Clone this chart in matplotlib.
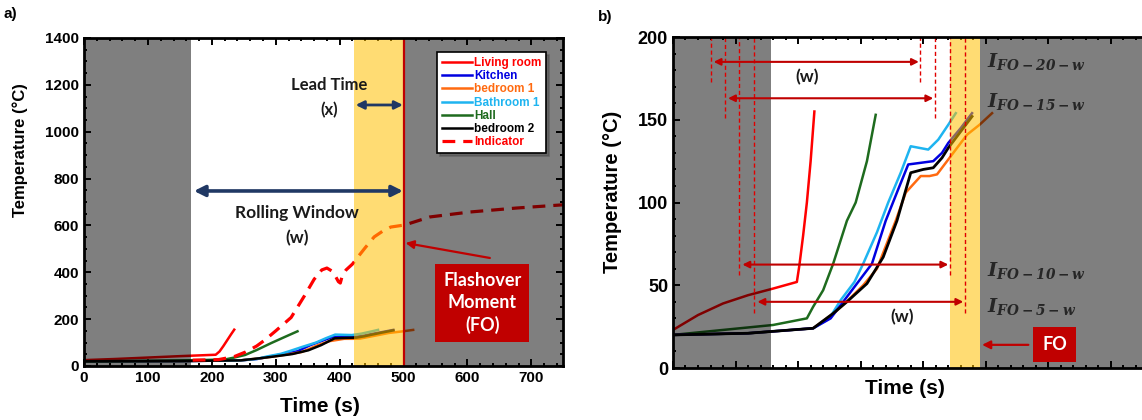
import numpy as np
import matplotlib.pyplot as plt
from matplotlib.ticker import MultipleLocator

plt.rcParams['font.family'] = ['Liberation Sans', 'DejaVu Sans']
plt.rcParams['font.weight'] = 'bold'

# ---- panel a) data (time s, temperature C) ----
living_t = [0, 50, 100, 150, 206, 212, 218, 224, 230, 235]
living_T = [25, 30, 36, 42, 48, 62, 85, 110, 135, 155]
hall_t = [0, 100, 180, 221, 235, 252, 270, 293, 315, 334]
hall_T = [20, 22, 25, 28, 36, 47, 68, 98, 125, 148]
bath_t = [0, 150, 245, 270, 287, 308, 321, 342, 363, 378, 393, 406, 419, 434, 449, 460]
bath_T = [20, 21, 24, 30, 41, 52, 63, 82, 100, 118, 134, 133, 132, 138, 147, 154]
kitchen_t = [0, 150, 245, 271, 292, 313, 334, 354, 373, 388, 407, 426, 439, 449, 467, 484]
kitchen_T = [20, 21, 24, 30, 41, 52, 63, 89, 108, 123, 124, 125, 130, 136, 145, 154]
bed2_t = [0, 150, 245, 275, 296, 326, 351, 371, 392, 411, 426, 439, 449, 467, 484]
bed2_T = [20, 21, 24, 33, 40, 51, 67, 89, 118, 120, 121, 127, 133, 143, 152]
bed1_t = [0, 150, 245, 279, 298, 320, 341, 366, 384, 407, 420, 432, 449, 464, 477, 496, 515]
bed1_T = [20, 21, 24, 34, 41, 50, 60, 89, 106, 116, 116, 117, 126, 134, 141, 147, 154]
ind_t = [170, 210, 235, 253, 270, 283, 300, 324, 345, 360, 372, 380, 388, 393, 398, 401,
         404, 410, 420, 427, 440, 454, 467, 480, 502, 541, 603, 676, 750]
ind_T = [25, 27, 40, 60, 85, 111, 150, 207, 300, 370, 410, 418, 405, 385, 360, 354,
         385, 410, 435, 460, 505, 551, 575, 593, 602, 636, 657, 674, 688]

# ---- panel b) data ----
b_living_t = [0, 20, 40, 60, 80, 99, 101, 104, 107, 110, 113]
b_living_T = [23, 32, 39, 44, 48, 52, 62, 80, 100, 125, 155]
b_hall_t = [0, 40, 80, 107, 112, 120, 128, 139, 146, 155, 162]
b_hall_T = [20, 23, 26, 30, 37, 47, 63, 89, 100, 125, 153]
b_bath_t = [0, 60, 112, 125, 134, 145, 152, 163, 172, 182, 190, 197, 204, 212, 220, 226]
b_bath_T = [20, 21, 24, 30, 41, 52, 63, 82, 100, 118, 134, 133, 132, 138, 147, 154]
b_kitchen_t = [0, 60, 112, 126, 137, 148, 159, 170, 180, 188, 198, 208, 215, 220, 230, 239]
b_kitchen_T = [20, 21, 24, 30, 41, 52, 63, 89, 108, 123, 124, 125, 130, 136, 145, 154]
b_bed2_t = [0, 60, 112, 128, 139, 155, 168, 179, 190, 200, 208, 215, 220, 230, 239]
b_bed2_T = [20, 21, 24, 33, 40, 51, 67, 89, 118, 120, 121, 127, 133, 143, 152]
b_bed1_t = [0, 60, 112, 130, 140, 152, 163, 178, 186, 198, 205, 211, 220, 228, 235, 245, 255]
b_bed1_T = [20, 21, 24, 34, 41, 50, 60, 89, 106, 116, 116, 117, 126, 134, 141, 147, 154]

win_start = [30, 41.5, 53, 65]
win_end = [197.5, 209, 221, 233]
win_bottom = [173, 151, 56, 33]
win_arrow_y = [185, 163, 62.5, 40]
win_labels = ['20', '15', '10', '5']
win_label_y = [185, 161, 59, 37]

c_red = '#FF0000'
c_blue = '#0000E0'
c_orange = '#FF6A10'
c_lblue = '#1EB4F0'
c_green = '#1E6B1E'
c_black = '#000000'
c_dark = '#C00000'
c_navy = '#203864'

fig = plt.figure(figsize=(11.42, 4.2), dpi=100)
ax1 = fig.add_axes([0.0736, 0.1286, 0.4197, 0.781])
ax2 = fig.add_axes([0.5893, 0.1238, 0.412, 0.788])

# ---------------- panel a ----------------
h = []
h += ax1.plot(living_t, living_T, color=c_red, lw=1.8, label='Living room')
h += ax1.plot(kitchen_t, kitchen_T, color=c_blue, lw=1.8, label='Kitchen')
h += ax1.plot(bed1_t, bed1_T, color=c_orange, lw=1.8, label='bedroom 1')
h += ax1.plot(bath_t, bath_T, color=c_lblue, lw=1.8, label='Bathroom 1')
h += ax1.plot(hall_t, hall_T, color=c_green, lw=1.8, label='Hall')
h += ax1.plot(bed2_t, bed2_T, color=c_black, lw=1.8, label='bedroom 2')
h += ax1.plot(ind_t, ind_T, color=c_red, lw=2.3, ls=(0, (4, 2.5)), label='Indicator')

ax1.axvspan(0, 168, color='black', alpha=0.5, lw=0, zorder=3)
ax1.axvspan(500, 750, color='black', alpha=0.5, lw=0, zorder=3)
ax1.axvspan(423, 500, color='#FFC000', alpha=0.55, lw=0, zorder=3)
ax1.axvline(500, color=c_dark, lw=1.6, zorder=4)

ax1.set_xlim(0, 750)
ax1.set_ylim(0, 1400)
ax1.xaxis.set_major_locator(MultipleLocator(100))
ax1.xaxis.set_minor_locator(MultipleLocator(20))
ax1.yaxis.set_major_locator(MultipleLocator(200))
ax1.yaxis.set_minor_locator(MultipleLocator(50))

ax1.annotate('', xy=(499, 747), xytext=(172, 747),
             arrowprops=dict(arrowstyle='<|-|>', color=c_navy, lw=2.6,
                             mutation_scale=16, shrinkA=0, shrinkB=0), zorder=6)
ax1.annotate('', xy=(499, 1114), xytext=(425, 1114),
             arrowprops=dict(arrowstyle='<|-|>', color=c_navy, lw=2.0,
                             mutation_scale=12, shrinkA=0, shrinkB=0), zorder=6)
ax1.text(384, 1199, 'Lead Time', family='Lato', fontweight='bold', fontsize=12,
         color='#1a1a1a', ha='center', va='center', zorder=6)
ax1.text(384, 1092, '(x)', family='Lato', fontweight='bold', fontsize=12,
         color='#1a1a1a', ha='center', va='center', zorder=6)
ax1.text(333, 653, 'Rolling Window', family='Lato', fontweight='bold', fontsize=12.5,
         color='#1a1a1a', ha='center', va='center', zorder=6)
ax1.text(333, 546, '(w)', family='Lato', fontweight='bold', fontsize=12.5,
         color='#1a1a1a', ha='center', va='center', zorder=6)
ax1.text(623, 269, 'Flashover\nMoment\n(FO)', family='Lato', fontweight='bold',
         fontsize=13, color='white', ha='center', va='center', linespacing=1.35,
         bbox=dict(boxstyle='square,pad=0.45', fc=c_dark, ec='none'), zorder=7)
ax1.annotate('', xy=(503, 525), xytext=(635, 461),
             arrowprops=dict(arrowstyle='-|>', color=c_dark, lw=1.6,
                             mutation_scale=12, shrinkA=0, shrinkB=0), zorder=7)

leg = ax1.legend(handles=h, loc='upper right', bbox_to_anchor=(0.964, 0.956),
                 frameon=True, fancybox=False, shadow=True, edgecolor='black',
                 labelcolor='linecolor', handlelength=2.6, handletextpad=0.15,
                 labelspacing=0.1, borderpad=0.4, borderaxespad=0,
                 prop=dict(family='Liberation Sans', weight='bold', size=8.5))
leg.get_frame().set_linewidth(1.2)
leg.set_zorder(10)

# ---------------- panel b ----------------
ax2.plot(b_living_t, b_living_T, color=c_red, lw=1.8)
ax2.plot(b_hall_t, b_hall_T, color=c_green, lw=1.8)
ax2.plot(b_bath_t, b_bath_T, color=c_lblue, lw=1.8)
ax2.plot(b_bed1_t, b_bed1_T, color=c_orange, lw=1.8)
ax2.plot(b_kitchen_t, b_kitchen_T, color=c_blue, lw=1.8)
ax2.plot(b_bed2_t, b_bed2_T, color=c_black, lw=2.0)

ax2.set_xlim(0, 376)
ax2.set_ylim(0, 200)
ax2.axvspan(0, 78, color='black', alpha=0.5, lw=0, zorder=3)
ax2.axvspan(245.6, 376, color='black', alpha=0.5, lw=0, zorder=3)
ax2.axvspan(221, 245.6, color='#FFC000', alpha=0.55, lw=0, zorder=3)

ax2.vlines(win_start, win_bottom, 200, colors='#E00000', lw=1.0,
           linestyles=(0, (3, 2)), zorder=5)
ax2.vlines(win_end, win_bottom, 200, colors='#E00000', lw=1.0,
           linestyles=(0, (3, 2)), zorder=5)
for s, e, y in zip(win_start, win_end, win_arrow_y):
    ax2.annotate('', xy=(e - 1, y), xytext=(s + 2.5, y),
                 arrowprops=dict(arrowstyle='<|-|>', color=c_dark, lw=1.5,
                                 mutation_scale=10, shrinkA=0, shrinkB=0), zorder=6)
for lab, y in zip(win_labels, win_label_y):
    ax2.text(251, y, r'$\mathbfit{I_{FO-' + lab + r'-w}}$', math_fontfamily='dejavuserif',
             fontsize=14, color='#262626', ha='left', va='center', zorder=6)
ax2.text(107, 176, '(w)', family='Lato', fontweight='bold', fontsize=12.5,
         color='#1a1a1a', ha='center', va='center', zorder=6)
ax2.text(183, 31, '(w)', family='Lato', fontweight='bold', fontsize=12.5,
         color='#1a1a1a', ha='center', va='center', zorder=6)
ax2.text(305, 14, 'FO', family='Lato', fontweight='bold', fontsize=13,
         color='white', ha='center', va='center',
         bbox=dict(boxstyle='square,pad=0.5', fc=c_dark, ec='none'), zorder=7)
ax2.annotate('', xy=(247, 14), xytext=(284, 14),
             arrowprops=dict(arrowstyle='-|>', color=c_dark, lw=1.6,
                             mutation_scale=12, shrinkA=0, shrinkB=0), zorder=7)

ax2.xaxis.set_major_locator(MultipleLocator(50))
ax2.xaxis.set_minor_locator(MultipleLocator(10))
ax2.yaxis.set_major_locator(MultipleLocator(50))
ax2.yaxis.set_minor_locator(MultipleLocator(10))
ax2.set_xticklabels([])
ax2.spines['right'].set_visible(False)

for ax, fs in [(ax1, 11), (ax2, 13)]:
    ax.tick_params(which='both', direction='in', top=True, right=(ax is ax1),
                   width=1.4, labelsize=fs)
    ax.tick_params(which='major', length=5)
    ax.tick_params(which='minor', length=2.5)
    for sp in ax.spines.values():
        sp.set_linewidth(2)
        sp.set_zorder(8)
    for lab in ax.get_xticklabels() + ax.get_yticklabels():
        lab.set_fontweight('bold')

fig.text(20 / 1142, 1 - 150 / 420, 'Temperature (°C)', rotation=90, fontsize=12,
         fontweight='bold', ha='center', va='center')
fig.text(320 / 1142, 1 - 407 / 420, 'Time (s)', fontsize=15, fontweight='bold',
         ha='center', va='center')
fig.text(612 / 1142, 1 - 192 / 420, 'Temperature (°C)', rotation=90, fontsize=14.5,
         fontweight='bold', ha='center', va='center')
fig.text(905 / 1142, 1 - 388 / 420, 'Time (s)', fontsize=15, fontweight='bold',
         ha='center', va='center')
fig.text(10 / 1142, 1 - 14 / 420, 'a)', fontsize=11, fontweight='bold',
         ha='center', va='center')
fig.text(605 / 1142, 1 - 17 / 420, 'b)', fontsize=11, fontweight='bold',
         ha='center', va='center')

fig.savefig('out.png', dpi=100)
